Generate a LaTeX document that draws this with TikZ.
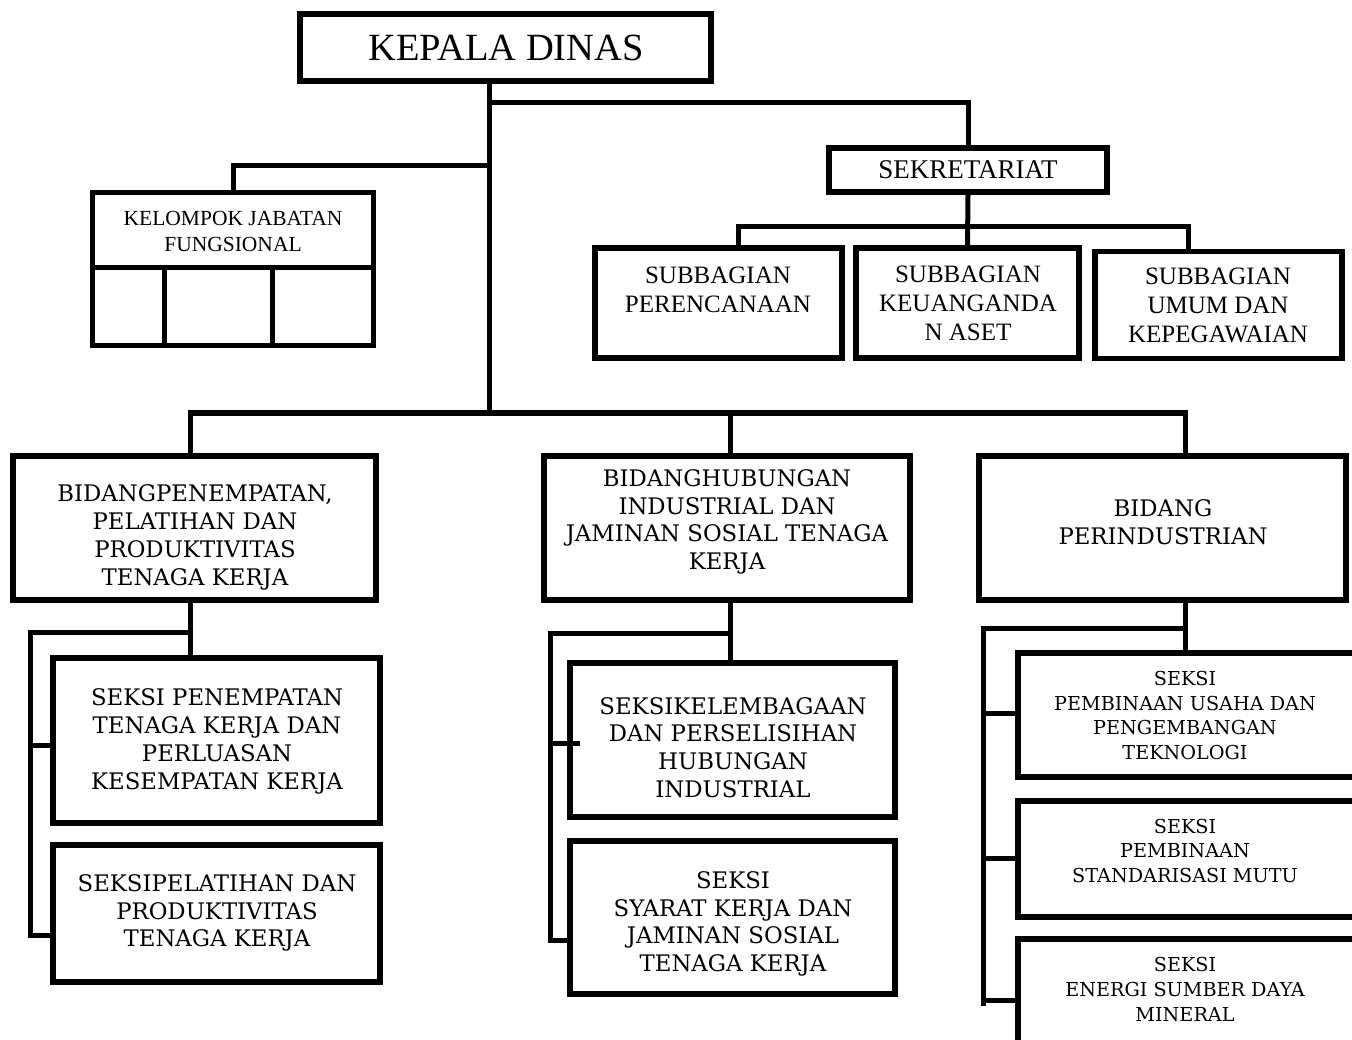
\documentclass[tikz,border=0pt]{standalone}
\usepackage{fontspec}
\newfontfamily\topfont{Liberation Serif}
\newfontfamily\botfont{DejaVu Serif}
\begin{document}
\begin{tikzpicture}[x=1pt,y=-1pt,
  box/.style={draw=black, line width=5.5pt, fill=white, inner sep=0pt},
  conn/.style={draw=black, line width=5pt, line join=miter},
  ttop/.style={align=center, inner sep=0pt, font=\topfont\fontsize{25}{29}\selectfont},
  tbot/.style={align=center, inner sep=0pt, font=\botfont\fontsize{22.8}{27.8}\selectfont},
  tsmall/.style={align=center, inner sep=0pt, font=\botfont\fontsize{19.2}{24.7}\selectfont}]
\useasboundingbox (0,0) rectangle (1352,1040);
\clip (0,0) rectangle (1352,1040);
\fill[white] (0,0) rectangle (1352,1040);

% ---- junction coordinates
\coordinate (tr) at (489,0);
\coordinate (j1) at (489,103);
\coordinate (j2) at (489,166);
\coordinate (d1) at (738,227);
\coordinate (d3) at (1188,227);
\coordinate (m1) at (190,413);
\coordinate (m2) at (730,413);
\coordinate (m3) at (1185,413);
\coordinate (l1) at (188,632);
\coordinate (l2) at (30,632);
\coordinate (l3) at (30,745);
\coordinate (l4) at (30,935);
\coordinate (c1) at (550,633);
\coordinate (c3) at (550,743);
\coordinate (c4) at (550,940);
\coordinate (c3e) at (580,743);
\coordinate (r1) at (1187,628);
\coordinate (r2) at (983,628);
\coordinate (r3) at (983,713);
\coordinate (r4) at (983,858);
\coordinate (r5) at (983,1000);
\coordinate (r6) at (983,1006);

% ---- boxes
\node[box, minimum width=411pt, minimum height=67pt] (kd) at (505.5,47.5) {};
\node[box, minimum width=278pt, minimum height=44pt] (sek) at (968,170) {};
\node[box, minimum width=247pt, minimum height=110pt] (sp) at (718.5,303) {};
\node[box, minimum width=223pt, minimum height=110pt] (sk) at (967.5,303) {};
\node[box, minimum width=247pt, minimum height=107pt] (su) at (1218.5,305) {};
\node[box, line width=5pt, minimum width=281pt, minimum height=153pt] (kjf) at (233,269) {};
\node[box, minimum width=363pt, minimum height=144pt] (b1) at (194.5,528) {};
\node[box, minimum width=366pt, minimum height=144pt] (b2) at (727,528) {};
\node[box, minimum width=367pt, minimum height=144pt] (b3) at (1162.5,528) {};
\node[box, minimum width=327pt, minimum height=165pt] (s11) at (216.5,740.5) {};
\node[box, minimum width=327pt, minimum height=137pt] (s12) at (216.5,913.5) {};
\node[box, minimum width=325pt, minimum height=154pt] (s21) at (732.5,740) {};
\node[box, minimum width=325pt, minimum height=153pt] (s22) at (732.5,917.5) {};
\node[box, minimum width=344pt, minimum height=124pt] (s31) at (1190,715) {};
\node[box, minimum width=344pt, minimum height=116pt] (s32) at (1190,859) {};
\node[box, minimum width=344pt, minimum height=124pt] (s33) at (1190,1001) {};

% inner grid of kelompok jabatan fungsional
\coordinate (g1) at (90,268);
\coordinate (g2) at (164,268);
\coordinate (g3) at (272,268);
\draw[conn] (g1) -- (g1 -| kjf.east);
\draw[conn] (g2) -- (g2 |- kjf.south);
\draw[conn] (g3) -- (g3 |- kjf.south);

% ---- connectors
\draw[conn] (kd.south -| tr) -- (m2 -| tr);
\draw[conn] (j1) -| (sek.north);
\draw[conn] (j2) -| (kjf.north);
\draw[conn] (sek.south) -- (sk.north);
\draw[conn] (d1 |- sp.north) -- (d1) -- (d3) -- (d3 |- su.north);
\draw[conn] (m1 |- b1.north) -- (m1) -- (m3) -- (m3 |- b3.north);
\draw[conn] (m2) -- (m2 |- b2.north);
% left column
\draw[conn] (m1 |- b1.south) -- (m1 |- s11.north);
\draw[conn] (l1) -- (l2) -- (l4) -- (l4 -| s12.west);
\draw[conn] (l3) -- (l3 -| s11.west);
% middle column
\draw[conn] (m2 |- b2.south) -- (m2 |- s21.north);
\draw[conn] (c1 -| m2) -- (c1) -- (c4) -- (c4 -| s22.west);
\draw[conn] (c3) -- (c3e);
% right column
\draw[conn] (m3 |- b3.south) -- (m3 |- s31.north);
\draw[conn] (r1) -- (r2) -- (r6);
\draw[conn] (r3) -- (r3 -| s31.west);
\draw[conn] (r4) -- (r4 -| s32.west);
\draw[conn] (r5) -- (r5 -| s33.west);

% ---- texts
\node[ttop, font=\topfont\fontsize{38.5}{44}\selectfont] (tkd) at (506,48) {KEPALA DINAS};
\node[ttop, font=\topfont\fontsize{21.5}{26}\selectfont] (tkjf) at (233,231) {KELOMPOK JABATAN\\FUNGSIONAL};
\node[ttop, font=\topfont\fontsize{27}{30}\selectfont] (tsek) at (968,170) {SEKRETARIAT};
\node[ttop] (tsp) at (718,289.5) {SUBBAGIAN\\PERENCANAAN};
\node[ttop] (tsk) at (968,303.5) {SUBBAGIAN\\KEUANGANDA\\N ASET};
\node[ttop] (tsu) at (1218,305.5) {SUBBAGIAN\\UMUM DAN\\KEPEGAWAIAN};

\node[tbot] (tb1) at (195,537.5) {BIDANGPENEMPATAN,\\PELATIHAN DAN\\PRODUKTIVITAS\\TENAGA KERJA};
\node[tbot] (tb2) at (727,522) {BIDANGHUBUNGAN\\INDUSTRIAL DAN\\JAMINAN SOSIAL TENAGA\\KERJA};
\node[tbot] (tb3) at (1163,522) {BIDANG\\PERINDUSTRIAN};
\node[tbot] (ts11) at (217,741.5) {SEKSI PENEMPATAN\\TENAGA KERJA DAN\\PERLUASAN\\KESEMPATAN KERJA};
\node[tbot] (ts12) at (217,913) {SEKSIPELATIHAN DAN\\PRODUKTIVITAS\\TENAGA KERJA};
\node[tbot] (ts21) at (733,747.5) {SEKSIKELEMBAGAAN\\DAN PERSELISIHAN\\HUBUNGAN\\INDUSTRIAL};
\node[tbot] (ts22) at (733,924) {SEKSI\\SYARAT KERJA DAN\\JAMINAN SOSIAL\\TENAGA KERJA};
\node[tsmall] (ts31) at (1185,715.5) {SEKSI\\PEMBINAAN USAHA DAN\\PENGEMBANGAN\\TEKNOLOGI};
\node[tsmall] (ts32) at (1185,851) {SEKSI\\PEMBINAAN\\STANDARISASI MUTU};
\node[tsmall] (ts33) at (1185,989.5) {SEKSI\\ENERGI SUMBER DAYA\\MINERAL};
\end{tikzpicture}
\end{document}
